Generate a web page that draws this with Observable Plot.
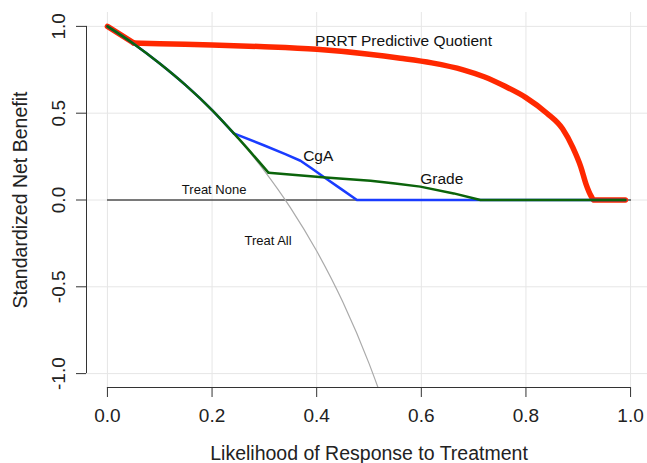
<!DOCTYPE html>
<html>
<head>
<meta charset="utf-8">
<script src="https://cdn.jsdelivr.net/npm/d3@7"></script>
<script src="https://cdn.jsdelivr.net/npm/@observablehq/plot@0.6"></script>
<style>
  html, body { margin: 0; padding: 0; background: #fff; }
  #chart { width: 647px; height: 463px; }
</style>
</head>
<body>
<div id="chart"></div>
<script>
// ---- data ----
const xTicks = [0, 0.2, 0.4, 0.6, 0.8, 1.0];
const yTicks = [-1, -0.5, 0, 0.5, 1];

const noneX = [0, 1];
const noneY = [0, 0];

const allX = [0, 0.05, 0.1, 0.15, 0.2, 0.25, 0.3, 0.35, 0.4, 0.45, 0.5, 0.52];
const allY = [1, 0.898, 0.784, 0.657, 0.515, 0.353, 0.168, -0.045, -0.294, -0.588, -0.941, -1.103];

const prrtX = [0, 0.05, 0.1, 0.2, 0.3, 0.4, 0.5, 0.56, 0.62, 0.68, 0.72, 0.76, 0.8, 0.84, 0.87, 0.89, 0.905, 0.915, 0.925, 0.93, 0.99];
const prrtY = [1, 0.905, 0.90, 0.893, 0.883, 0.868, 0.84, 0.817, 0.79, 0.75, 0.71, 0.655, 0.59, 0.50, 0.41, 0.30, 0.19, 0.09, 0.02, 0, 0];

const cgaX = [0, 0.05, 0.1, 0.15, 0.2, 0.2415, 0.30, 0.34, 0.369, 0.39, 0.415, 0.445, 0.477, 0.99];
const cgaY = [1, 0.900, 0.786, 0.66, 0.518, 0.384, 0.314, 0.264, 0.226, 0.183, 0.13, 0.067, 0, 0];

const gradeX = [0, 0.05, 0.1, 0.15, 0.2, 0.25, 0.308, 0.417, 0.503, 0.55, 0.598, 0.662, 0.713, 0.99];
const gradeY = [1, 0.900, 0.786, 0.66, 0.518, 0.356, 0.157, 0.129, 0.111, 0.095, 0.077, 0.038, 0, 0];

const bigLabels = ["PRRT Predictive Quotient", "CgA", "Grade"];
const bigLabelX = [0.566, 0.403, 0.639];
const bigLabelY = [0.916, 0.254, 0.121];

const smallLabels = ["Treat None", "Treat All"];
const smallLabelX = [0.204, 0.307];
const smallLabelY = [0.058, -0.236];

const xTitle = "Likelihood of Response to Treatment";
const yTitle = "Standardized Net Benefit";

// ---- build tables ----
const pts = (xs, ys) => xs.map((x, i) => ({x, y: ys[i]}));
const labs = (t, xs, ys) => t.map((s, i) => ({s, x: xs[i], y: ys[i]}));
const fmt = d => d.toFixed(1); // ASCII hyphen minus as in the reference

const prrt = pts(prrtX, prrtY);
const cga = pts(cgaX, cgaY);
const grade = pts(gradeX, gradeY);

const font = "'Liberation Sans', Arial, Helvetica, sans-serif";

const chart = Plot.plot({
  width: 647,
  height: 463,
  marginLeft: 86,
  marginRight: 0,
  marginTop: 12,
  marginBottom: 76,
  style: {fontFamily: font, fontSize: "19px", color: "#222", background: "#fff"},
  x: {domain: [-0.04, 1.04], range: [86, 651]},
  y: {domain: [-1.08, 1.08]},
  marks: [
    Plot.gridX(xTicks, {stroke: "#e6e6e6", strokeOpacity: 1, strokeWidth: 1}),
    Plot.gridY(yTicks, {stroke: "#e6e6e6", strokeOpacity: 1, strokeWidth: 1}),
    // axis lines
    Plot.ruleX([-0.04], {y1: -1, y2: 1, stroke: "#333"}),
    Plot.ruleY([-1.08], {x1: 0, x2: 1, stroke: "#333"}),
    Plot.axisX(xTicks, {tickSize: 10, tickPadding: 11, tickFormat: fmt, fontSize: 19, label: null, stroke: "#333", fill: "#222"}),
    Plot.axisY(yTicks, {tickSize: 10, tickFormat: () => "", label: null, stroke: "#333"}),
    Plot.text(yTicks, {x: -0.04, y: d => d, dx: -28, text: fmt, rotate: -90, textAnchor: "middle", lineAnchor: "middle", fontSize: 19, fill: "#222"}),
    // titles
    Plot.text([xTitle], {x: 0.5, y: -1.08, dy: 66, text: d => d, textAnchor: "middle", lineAnchor: "middle", fontSize: 19.5, fill: "#222"}),
    Plot.text([yTitle], {x: -0.04, y: 0, dx: -66, text: d => d, rotate: -90, textAnchor: "middle", lineAnchor: "middle", fontSize: 19.5, fill: "#222"}),
    // curves
    Plot.line(pts(noneX, noneY), {x: "x", y: "y", stroke: "#000", strokeWidth: 1}),
    Plot.line(pts(allX, allY), {x: "x", y: "y", stroke: "#aaaaaa", strokeWidth: 1.2, curve: "monotone-x", clip: true}),
    Plot.line(prrt.filter(d => d.x <= 0.05), {x: "x", y: "y", stroke: "#ff2800", strokeWidth: 5.5, strokeLinecap: "round"}),
    Plot.line(prrt.filter(d => d.x >= 0.05), {x: "x", y: "y", stroke: "#ff2800", strokeWidth: 5.5, curve: "monotone-x", strokeLinejoin: "round", strokeLinecap: "round"}),
    Plot.line(cga.filter(d => d.x <= 0.2415), {x: "x", y: "y", stroke: "#1a3cff", strokeWidth: 2.5, curve: "monotone-x"}),
    Plot.line(cga.filter(d => d.x >= 0.2415), {x: "x", y: "y", stroke: "#1a3cff", strokeWidth: 2.5}),
    Plot.line(grade.filter(d => d.x <= 0.308), {x: "x", y: "y", stroke: "#0b640b", strokeWidth: 2.5, curve: "monotone-x"}),
    Plot.line(grade.filter(d => d.x >= 0.308), {x: "x", y: "y", stroke: "#0b640b", strokeWidth: 2.5}),
    // labels
    Plot.text(labs(bigLabels, bigLabelX, bigLabelY), {x: "x", y: "y", text: "s", fontSize: 15.5, fill: "#111", textAnchor: "middle", lineAnchor: "middle"}),
    Plot.text(labs(smallLabels, smallLabelX, smallLabelY), {x: "x", y: "y", text: "s", fontSize: 13, fill: "#111", textAnchor: "middle", lineAnchor: "middle"})
  ]
});
document.getElementById("chart").appendChild(chart);
</script>
</body>
</html>
